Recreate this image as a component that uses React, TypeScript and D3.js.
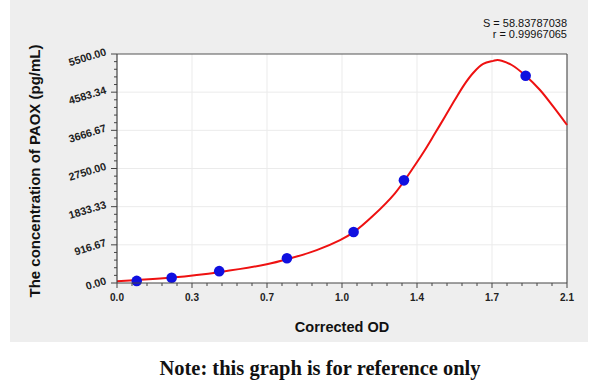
import React from "react";
import * as d3 from "d3";

const xTickValues = [0, 0.35, 0.7, 1.05, 1.4, 1.75, 2.1];
const xTickLabels = ["0.0", "0.3", "0.7", "1.0", "1.4", "1.7", "2.1"];
const yTickValues = [0, 916.67, 1833.33, 2750, 3666.67, 4583.34, 5500];
const yTickLabels = ["0.00", "916.67", "1833.33", "2750.00", "3666.67", "4583.34", "5500.00"];

const pointOD = [0.092, 0.255, 0.477, 0.793, 1.104, 1.339, 1.907];
const pointConc = [50, 127, 285, 593, 1225, 2465, 4979];

const curveOD = [0, 0.092, 0.255, 0.477, 0.699, 0.793, 0.932, 1.041, 1.103, 1.196, 1.297, 1.391, 1.437, 1.484, 1.531, 1.577, 1.62, 1.663, 1.709, 1.756, 1.775, 1.795, 1.842, 1.907, 1.974, 2.036, 2.1];
const curveConc = [40, 70, 130, 260, 450, 570, 790, 1030, 1215, 1620, 2154, 2834, 3194, 3595, 4000, 4400, 4760, 5050, 5260, 5335, 5356, 5339, 5236, 4979, 4635, 4234, 3795];

export default function App() {
  const W = 600, H = 385;
  const x = d3.scaleLinear().domain([0, 2.1]).range([117, 567]);
  const y = d3.scaleLinear().domain([0, 5500]).range([283, 54]);
  const [x0, x1] = x.range();
  const [y0, y1] = y.range();

  const xMinor: number[] = [];
  for (let i = 0; i < xTickValues.length - 1; i++) {
    const a = xTickValues[i], b = xTickValues[i + 1];
    for (let k = 1; k < 5; k++) xMinor.push(a + ((b - a) * k) / 5);
  }
  const yMinor: number[] = [];
  for (let i = 0; i < yTickValues.length - 1; i++) {
    const a = yTickValues[i], b = yTickValues[i + 1];
    for (let k = 1; k < 5; k++) yMinor.push(a + ((b - a) * k) / 5);
  }

  const curveData = curveOD.map((d, i) => [d, curveConc[i]] as [number, number]);
  const line = d3
    .line<[number, number]>()
    .x((d) => x(d[0]))
    .y((d) => y(d[1]))
    .curve(d3.curveCatmullRom.alpha(0.5));

  const font = "Liberation Sans, Arial, sans-serif";

  return (
    <svg width={W} height={H} style={{ position: "absolute", left: 0, top: 0, background: "#fff" }}>
      <rect x={10} y={0} width={578} height={342} fill="#eeeeee" />
      <rect x={x0} y={y1} width={x1 - x0} height={y0 - y1} fill="#ffffff" />
      {/* grid */}
      {xTickValues.slice(1, -1).map((v, i) => (
        <line key={"gx" + i} x1={x(v)} x2={x(v)} y1={y1} y2={y0} stroke="#ebebeb" strokeWidth={1} />
      ))}
      {yTickValues.slice(1, -1).map((v, i) => (
        <line key={"gy" + i} x1={x0} x2={x1} y1={y(v)} y2={y(v)} stroke="#ebebeb" strokeWidth={1} />
      ))}
      {/* frame top/right */}
      <line x1={x0} x2={x1} y1={y1} y2={y1} stroke="#555" strokeWidth={1.2} />
      <line x1={x1} x2={x1} y1={y1} y2={y0} stroke="#555" strokeWidth={1.2} />
      {/* curve */}
      <path d={line(curveData) || ""} fill="none" stroke="#ee1111" strokeWidth={2} />
      {/* points */}
      {pointOD.map((d, i) => (
        <circle key={"p" + i} cx={x(d)} cy={y(pointConc[i])} r={5.3} fill="#1010e0" />
      ))}
      {/* axes */}
      <line x1={x0} x2={x1} y1={y0} y2={y0} stroke="#444" strokeWidth={1.2} />
      <line x1={x0} x2={x0} y1={y1} y2={y0} stroke="#444" strokeWidth={1.2} />
      {xTickValues.map((v, i) => (
        <g key={"xt" + i}>
          <line x1={x(v)} x2={x(v)} y1={y0} y2={y0 + 5} stroke="#444" />
          <text x={x(v)} y={y0 + 18} textAnchor="middle" fontFamily={font} fontSize={10} fontWeight="bold" fill="#222">
            {xTickLabels[i]}
          </text>
        </g>
      ))}
      {xMinor.map((v, i) => (
        <line key={"xm" + i} x1={x(v)} x2={x(v)} y1={y0} y2={y0 + 3} stroke="#444" />
      ))}
      {yTickValues.map((v, i) => (
        <g key={"yt" + i}>
          <line x1={x0 - 6} x2={x0} y1={y(v)} y2={y(v)} stroke="#444" />
          <text
            x={x0 - 10}
            y={y(v) + 1}
            transform={`rotate(-17 ${x0 - 10} ${y(v) + 1})`}
            textAnchor="end"
            fontFamily={font}
            fontSize={10.7}
            fontWeight="bold"
            fill="#222"
          >
            {yTickLabels[i]}
          </text>
        </g>
      ))}
      {yMinor.map((v, i) => (
        <line key={"ym" + i} x1={x0 - 3} x2={x0} y1={y(v)} y2={y(v)} stroke="#444" />
      ))}
      {/* axis titles */}
      <text x={(x0 + x1) / 2} y={332} textAnchor="middle" fontFamily={font} fontSize={14.5} fontWeight="bold" fill="#111">
        Corrected OD
      </text>
      <text
        transform="translate(40,171) rotate(-90)"
        textAnchor="middle"
        fontFamily={font}
        fontSize={15}
        fontWeight="bold"
        fill="#111"
      >
        The concentration of PAOX (pg/mL)
      </text>
      {/* stats */}
      <text x={567} y={27} textAnchor="end" fontFamily={font} fontSize={11} fill="#111">
        S = 58.83787038
      </text>
      <text x={567} y={38} textAnchor="end" fontFamily={font} fontSize={11} fill="#111">
        r = 0.99967065
      </text>
      {/* note */}
      <text x={320} y={375} textAnchor="middle" fontFamily="Liberation Serif, serif" fontSize={20.5} fontWeight="bold" fill="#111">
        Note: this graph is for reference only
      </text>
    </svg>
  );
}
